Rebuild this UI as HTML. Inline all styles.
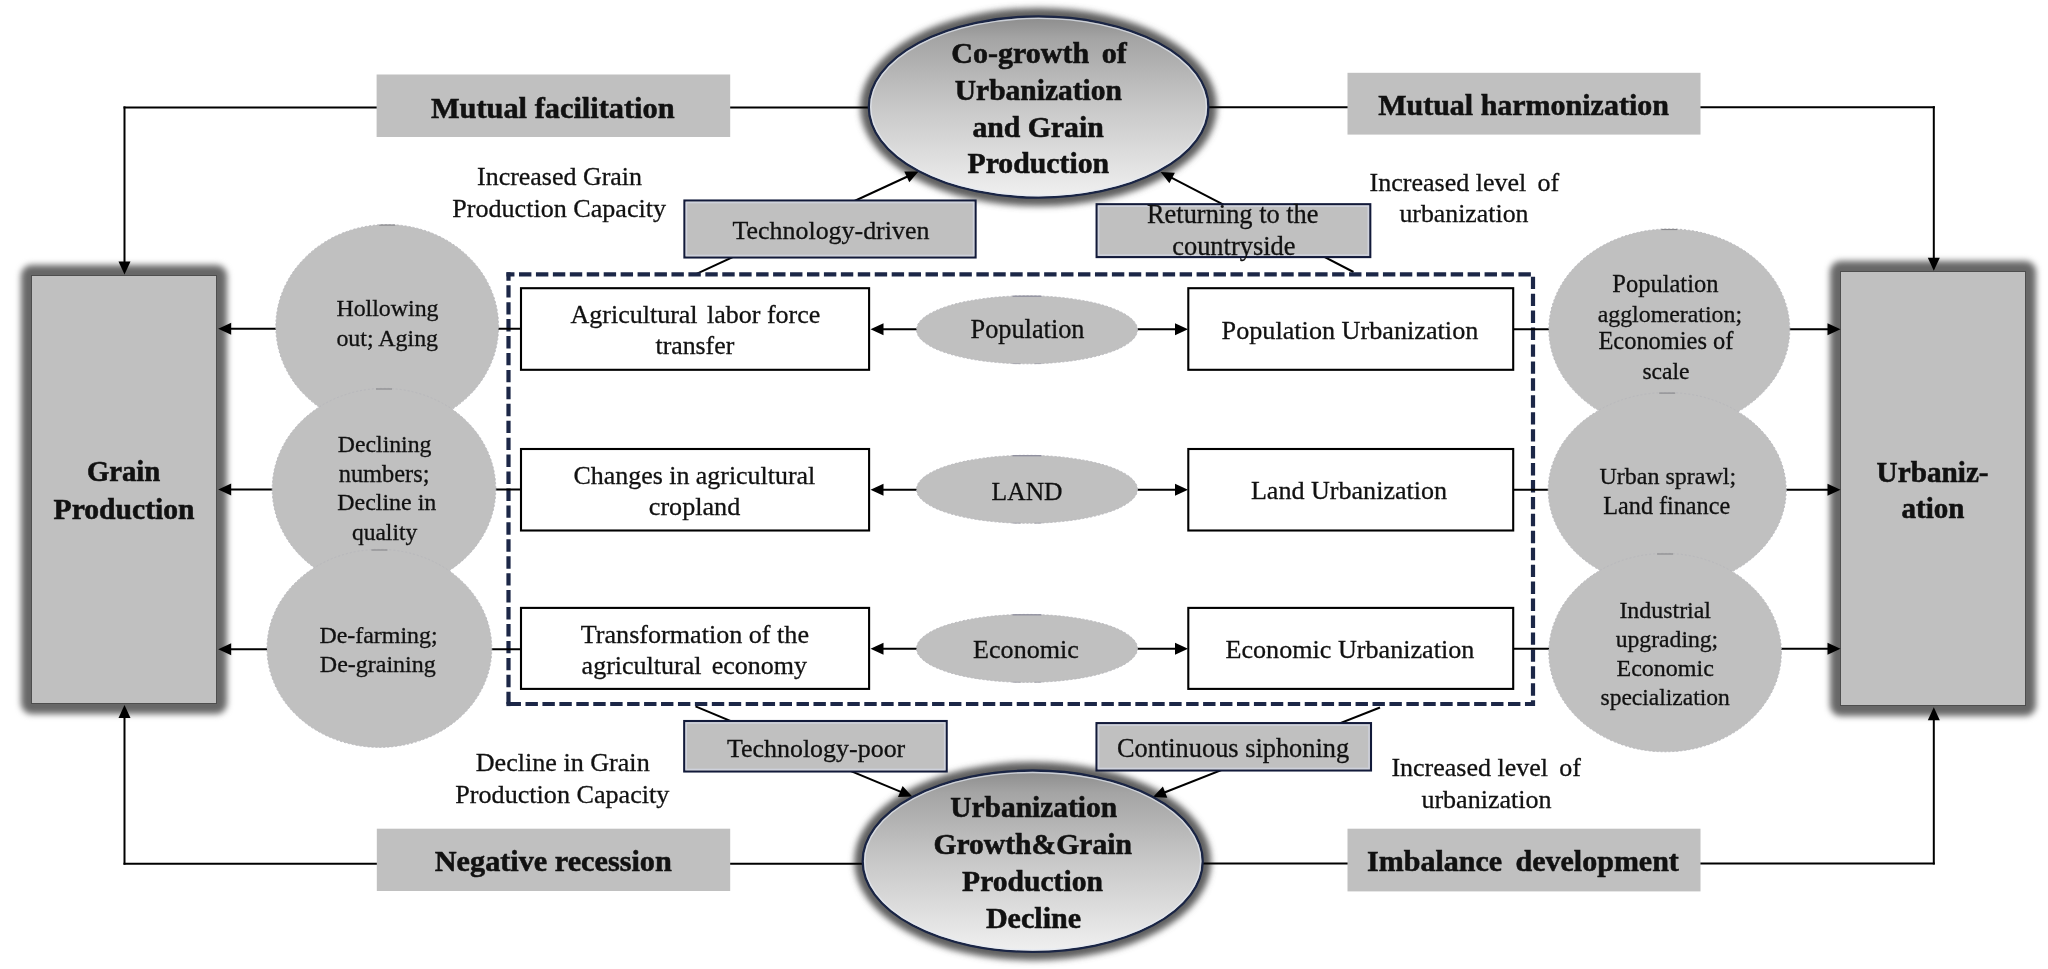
<!DOCTYPE html>
<html><head><meta charset="utf-8"><title>Urbanization and Grain Production</title>
<style>
html,body{margin:0;padding:0;background:#fff;}
body{width:2048px;height:969px;position:relative;overflow:hidden;font-family:"Liberation Serif",serif;}
.glow{position:absolute;background:#676767;border-radius:11px;filter:blur(3px);}
.big{position:absolute;background:#c0c0c0;border:1px solid #4e4e4e;}
svg{position:absolute;left:0;top:0;filter:blur(0.3px);}
</style></head><body>
<div class="glow" style="left:21.200000000000003px;top:265px;width:205.7px;height:448.9px;"></div><div class="big" style="left:31.200000000000003px;top:275px;width:183.7px;height:426.9px;"></div>
<div class="glow" style="left:1829.8px;top:261.1px;width:206.4000000000001px;height:454.9px;"></div><div class="big" style="left:1839.8px;top:271.1px;width:184.4000000000001px;height:432.9px;"></div>
<svg width="2048" height="969" viewBox="0 0 2048 969">
<defs>
<filter id="sh" x="-20%" y="-30%" width="140%" height="160%"><feGaussianBlur stdDeviation="3"/></filter>
<linearGradient id="eg" x1="0" y1="0" x2="0" y2="1">
<stop offset="0" stop-color="#8c8c8c"/><stop offset="0.12" stop-color="#a4a4a4"/><stop offset="0.5" stop-color="#c8c8c8"/><stop offset="1" stop-color="#f0f0f0"/>
</linearGradient>
</defs>
<ellipse cx="1038.6" cy="107" rx="178.3" ry="99.1" fill="#5e5e5e" filter="url(#sh)"/>
<ellipse cx="1032.7" cy="861.2" rx="178.5" ry="99.2" fill="#5e5e5e" filter="url(#sh)"/>
<line x1="123.5" y1="107.4" x2="870" y2="107.4" stroke="#000" stroke-width="2" />
<line x1="124.5" y1="106.4" x2="124.5" y2="262" stroke="#000" stroke-width="2" />
<polygon points="124.5,274.5 118.5,261.5 130.5,261.5" fill="#000"/>
<line x1="1207" y1="107.2" x2="1934.8" y2="107.2" stroke="#000" stroke-width="2" />
<line x1="1933.8" y1="106.2" x2="1933.8" y2="258" stroke="#000" stroke-width="2" />
<polygon points="1933.8,270.7 1927.8,257.7 1939.8,257.7" fill="#000"/>
<line x1="123.5" y1="863.7" x2="864" y2="863.7" stroke="#000" stroke-width="2" />
<line x1="124.5" y1="864.7" x2="124.5" y2="716" stroke="#000" stroke-width="2" />
<polygon points="124.5,705.0 130.5,718.0 118.5,718.0" fill="#000"/>
<line x1="1201" y1="863.5" x2="1934.8" y2="863.5" stroke="#000" stroke-width="2" />
<line x1="1933.8" y1="864.5" x2="1933.8" y2="718" stroke="#000" stroke-width="2" />
<polygon points="1933.8,707.3 1939.8,720.3 1927.8,720.3" fill="#000"/>
<line x1="696.5" y1="273.8" x2="908.6" y2="176.0" stroke="#000" stroke-width="2" />
<polygon points="918.6,171.4 909.3,182.3 904.3,171.4" fill="#000"/>
<line x1="1353.5" y1="272" x2="1170.4" y2="177.1" stroke="#000" stroke-width="2" />
<polygon points="1160.6,172.0 1174.9,172.7 1169.4,183.3" fill="#000"/>
<line x1="695.5" y1="706.4" x2="902.1" y2="792.4" stroke="#000" stroke-width="2" />
<polygon points="912.3,796.6 898.0,797.1 902.6,786.1" fill="#000"/>
<line x1="1380" y1="707.5" x2="1163.2" y2="793.0" stroke="#000" stroke-width="2" />
<polygon points="1153.0,797.0 1162.9,786.6 1167.3,797.8" fill="#000"/>
<ellipse cx="1038.6" cy="107" rx="169.8" ry="90.6" fill="url(#eg)" stroke="#1a2545" stroke-width="2.3"/>
<ellipse cx="1038.6" cy="107" rx="167.8" ry="88.6" fill="none" stroke="#e4eaf4" stroke-width="1.3" opacity="0.7"/>
<ellipse cx="1032.7" cy="861.2" rx="170" ry="90.7" fill="url(#eg)" stroke="#1a2545" stroke-width="2.3"/>
<ellipse cx="1032.7" cy="861.2" rx="168" ry="88.7" fill="none" stroke="#e4eaf4" stroke-width="1.3" opacity="0.7"/>
<rect x="376.6" y="74.5" width="353.6" height="62.5" fill="#c0c0c0"/>
<rect x="1347.5" y="72.8" width="353.0" height="61.8" fill="#c0c0c0"/>
<rect x="376.8" y="828.7" width="353.40000000000003" height="62.299999999999955" fill="#c0c0c0"/>
<rect x="1347.5" y="828.7" width="353.0" height="62.69999999999993" fill="#c0c0c0"/>
<rect x="684.4" y="200.5" width="291.2" height="57.0" fill="#c0c0c0" stroke="#121a3a" stroke-width="2.1"/>
<rect x="686.4" y="202.5" width="287.2" height="53.0" fill="none" stroke="#d2d6e2" stroke-width="1.6" opacity="0.8"/>
<rect x="1096.6" y="204.2" width="273.7" height="52.9" fill="#c0c0c0" stroke="#121a3a" stroke-width="2.1"/>
<rect x="1098.6" y="206.2" width="269.7" height="48.9" fill="none" stroke="#d2d6e2" stroke-width="1.6" opacity="0.8"/>
<rect x="684.2" y="721" width="262.5" height="50.5" fill="#c0c0c0" stroke="#121a3a" stroke-width="2.1"/>
<rect x="686.2" y="723" width="258.5" height="46.5" fill="none" stroke="#d2d6e2" stroke-width="1.6" opacity="0.8"/>
<rect x="1096.5" y="723.1" width="274.5" height="47.4" fill="#c0c0c0" stroke="#121a3a" stroke-width="2.1"/>
<rect x="1098.5" y="725.1" width="270.5" height="43.4" fill="none" stroke="#d2d6e2" stroke-width="1.6" opacity="0.8"/>
<line x1="506.5" y1="274.3" x2="1535" y2="274.3" stroke="#1c2747" stroke-width="4.2" stroke-dasharray="12.4 4.54" stroke-dashoffset="4.44"/>
<line x1="508.5" y1="272.3" x2="508.5" y2="706" stroke="#1c2747" stroke-width="4.2" stroke-dasharray="12.4 4.54" stroke-dashoffset="4.04"/>
<line x1="1533" y1="272.3" x2="1533" y2="706" stroke="#1c2747" stroke-width="4.2" stroke-dasharray="12.4 4.54" stroke-dashoffset="12.54"/>
<line x1="506.5" y1="704" x2="1535" y2="704" stroke="#1c2747" stroke-width="4.2" stroke-dasharray="12.4 4.54" stroke-dashoffset="14.88"/>
<rect x="506.4" y="701.9" width="4.2" height="4.2" fill="#1c2747"/>
<line x1="480" y1="328.7" x2="522" y2="328.7" stroke="#000" stroke-width="2" />
<line x1="285" y1="328.7" x2="229.2" y2="328.7" stroke="#000" stroke-width="2" />
<polygon points="218.2,328.7 231.2,322.7 231.2,334.7" fill="#000"/>
<line x1="480" y1="489.5" x2="522" y2="489.5" stroke="#000" stroke-width="2" />
<line x1="285" y1="489.5" x2="229.2" y2="489.5" stroke="#000" stroke-width="2" />
<polygon points="218.2,489.5 231.2,483.5 231.2,495.5" fill="#000"/>
<line x1="480" y1="649.2" x2="522" y2="649.2" stroke="#000" stroke-width="2" />
<line x1="285" y1="649.2" x2="229.2" y2="649.2" stroke="#000" stroke-width="2" />
<polygon points="218.2,649.2 231.2,643.2 231.2,655.2" fill="#000"/>
<line x1="1512" y1="329.3" x2="1560" y2="329.3" stroke="#000" stroke-width="2" />
<line x1="1770" y1="329.3" x2="1829.5" y2="329.3" stroke="#000" stroke-width="2" />
<polygon points="1840.5,329.3 1827.5,335.3 1827.5,323.3" fill="#000"/>
<line x1="1512" y1="489.7" x2="1560" y2="489.7" stroke="#000" stroke-width="2" />
<line x1="1770" y1="489.7" x2="1829.5" y2="489.7" stroke="#000" stroke-width="2" />
<polygon points="1840.5,489.7 1827.5,495.7 1827.5,483.7" fill="#000"/>
<line x1="1512" y1="648.7" x2="1560" y2="648.7" stroke="#000" stroke-width="2" />
<line x1="1770" y1="648.7" x2="1829.5" y2="648.7" stroke="#000" stroke-width="2" />
<polygon points="1840.5,648.7 1827.5,654.7 1827.5,642.7" fill="#000"/>
<line x1="930" y1="329.3" x2="881.5" y2="329.3" stroke="#000" stroke-width="2" />
<polygon points="870.5,329.3 883.5,323.3 883.5,335.3" fill="#000"/>
<line x1="1125" y1="329.3" x2="1177.0" y2="329.3" stroke="#000" stroke-width="2" />
<polygon points="1188.0,329.3 1175.0,335.3 1175.0,323.3" fill="#000"/>
<line x1="930" y1="489.8" x2="881.5" y2="489.8" stroke="#000" stroke-width="2" />
<polygon points="870.5,489.8 883.5,483.8 883.5,495.8" fill="#000"/>
<line x1="1125" y1="489.8" x2="1177.0" y2="489.8" stroke="#000" stroke-width="2" />
<polygon points="1188.0,489.8 1175.0,495.8 1175.0,483.8" fill="#000"/>
<line x1="930" y1="648.7" x2="881.5" y2="648.7" stroke="#000" stroke-width="2" />
<polygon points="870.5,648.7 883.5,642.7 883.5,654.7" fill="#000"/>
<line x1="1125" y1="648.7" x2="1177.0" y2="648.7" stroke="#000" stroke-width="2" />
<polygon points="1188.0,648.7 1175.0,654.7 1175.0,642.7" fill="#000"/>
<ellipse cx="387.2" cy="326.5" rx="111.4" ry="102" fill="#c0c0c0" stroke="#b8b8bc" stroke-width="1" stroke-dasharray="2 2"/>
<line x1="379.2" y1="225.1" x2="395.2" y2="225.1" stroke="#8a8a8e" stroke-width="1.2"/>
<ellipse cx="384" cy="489" rx="111.8" ry="100.6" fill="#c0c0c0" stroke="#b8b8bc" stroke-width="1" stroke-dasharray="2 2"/>
<line x1="376" y1="389.0" x2="392" y2="389.0" stroke="#8a8a8e" stroke-width="1.2"/>
<ellipse cx="379.4" cy="648.4" rx="112.4" ry="99" fill="#c0c0c0" stroke="#b8b8bc" stroke-width="1" stroke-dasharray="2 2"/>
<line x1="371.4" y1="550.0" x2="387.4" y2="550.0" stroke="#8a8a8e" stroke-width="1.2"/>
<ellipse cx="1669.3" cy="329.3" rx="120.5" ry="100.4" fill="#c0c0c0" stroke="#b8b8bc" stroke-width="1" stroke-dasharray="2 2"/>
<line x1="1661.3" y1="229.5" x2="1677.3" y2="229.5" stroke="#8a8a8e" stroke-width="1.2"/>
<ellipse cx="1667.2" cy="490" rx="119" ry="97.5" fill="#c0c0c0" stroke="#b8b8bc" stroke-width="1" stroke-dasharray="2 2"/>
<line x1="1659.2" y1="393.1" x2="1675.2" y2="393.1" stroke="#8a8a8e" stroke-width="1.2"/>
<ellipse cx="1665.1" cy="652.6" rx="116.3" ry="99.2" fill="#c0c0c0" stroke="#b8b8bc" stroke-width="1" stroke-dasharray="2 2"/>
<line x1="1657.1" y1="554.0" x2="1673.1" y2="554.0" stroke="#8a8a8e" stroke-width="1.2"/>
<rect x="521" y="288.2" width="348.1" height="81.6" fill="#fff" stroke="#000" stroke-width="2.1"/>
<rect x="1188.3" y="288.2" width="324.9" height="81.6" fill="#fff" stroke="#000" stroke-width="2.1"/>
<rect x="521" y="449.0" width="348.1" height="81.5" fill="#fff" stroke="#000" stroke-width="2.1"/>
<rect x="1188.3" y="449.0" width="324.9" height="81.5" fill="#fff" stroke="#000" stroke-width="2.1"/>
<rect x="521" y="607.9" width="348.1" height="81.0" fill="#fff" stroke="#000" stroke-width="2.1"/>
<rect x="1188.3" y="607.9" width="324.9" height="81.0" fill="#fff" stroke="#000" stroke-width="2.1"/>
<ellipse cx="1027" cy="329.8" rx="110.5" ry="34" fill="#c0c0c0" stroke="#b8b8bc" stroke-width="1" stroke-dasharray="2 2"/>
<line x1="1012.5" y1="296.2" x2="1041.5" y2="296.2" stroke="#8e8e9e" stroke-width="1.3"/>
<line x1="1012.5" y1="363.6" x2="1041.5" y2="363.6" stroke="#a8a8b0" stroke-width="1" stroke-dasharray="8 14"/>
<ellipse cx="1027" cy="489.3" rx="110.5" ry="34" fill="#c0c0c0" stroke="#b8b8bc" stroke-width="1" stroke-dasharray="2 2"/>
<line x1="1012.5" y1="455.7" x2="1041.5" y2="455.7" stroke="#8e8e9e" stroke-width="1.3"/>
<line x1="1012.5" y1="523.1" x2="1041.5" y2="523.1" stroke="#a8a8b0" stroke-width="1" stroke-dasharray="8 14"/>
<ellipse cx="1027" cy="648.4" rx="110.5" ry="34" fill="#c0c0c0" stroke="#b8b8bc" stroke-width="1" stroke-dasharray="2 2"/>
<line x1="1012.5" y1="614.8" x2="1041.5" y2="614.8" stroke="#8e8e9e" stroke-width="1.3"/>
<line x1="1012.5" y1="682.1999999999999" x2="1041.5" y2="682.1999999999999" stroke="#a8a8b0" stroke-width="1" stroke-dasharray="8 14"/>
<g font-family="Liberation Serif, serif" fill="#111">
<text x="430.9" y="118" font-size="30.37" font-weight="bold" stroke="#111" stroke-width="0.55">Mutual facilitation</text>
<text x="1378.2" y="115" font-size="29.99" font-weight="bold" stroke="#111" stroke-width="0.55">Mutual harmonization</text>
<text x="434.8" y="871.4" font-size="30.23" font-weight="bold" stroke="#111" stroke-width="0.55">Negative recession</text>
<text x="1367.1" y="871.4" font-size="30" font-weight="bold" stroke="#111" stroke-width="0.55" word-spacing="5.95">Imbalance development</text>
<text x="951.3" y="62.8" font-size="30" font-weight="bold" stroke="#111" stroke-width="0.55" word-spacing="5.25">Co-growth of</text>
<text x="954.8" y="99.7" font-size="29.51" font-weight="bold" stroke="#111" stroke-width="0.55">Urbanization</text>
<text x="972.4" y="136.5" font-size="29.73" font-weight="bold" stroke="#111" stroke-width="0.55">and Grain</text>
<text x="967.5" y="173.3" font-size="29.75" font-weight="bold" stroke="#111" stroke-width="0.55">Production</text>
<text x="950.2" y="817.1" font-size="29.46" font-weight="bold" stroke="#111" stroke-width="0.55">Urbanization</text>
<text x="933.4" y="854.2" font-size="29.63" font-weight="bold" stroke="#111" stroke-width="0.55">Growth&amp;Grain</text>
<text x="962.1" y="891" font-size="29.6" font-weight="bold" stroke="#111" stroke-width="0.55">Production</text>
<text x="985.9" y="927.6" font-size="30.08" font-weight="bold" stroke="#111" stroke-width="0.55">Decline</text>
<text x="86.9" y="481.4" font-size="28.73" font-weight="bold" stroke="#111" stroke-width="0.55">Grain</text>
<text x="53.6" y="519" font-size="29.62" font-weight="bold" stroke="#111" stroke-width="0.55">Production</text>
<text x="1876.6" y="481.6" font-size="29.23" font-weight="bold" stroke="#111" stroke-width="0.55">Urbaniz-</text>
<text x="1901.6" y="518.4" font-size="29.01" font-weight="bold" stroke="#111" stroke-width="0.55">ation</text>
<text x="477.1" y="185.2" font-size="25.95" stroke="#111" stroke-width="0.3">Increased Grain</text>
<text x="452.2" y="216.8" font-size="26.11" stroke="#111" stroke-width="0.3">Production Capacity</text>
<text x="732.6" y="238.6" font-size="25.92" stroke="#111" stroke-width="0.3">Technology-driven</text>
<text x="1147.0" y="223.3" font-size="26.4" stroke="#111" stroke-width="0.3">Returning to the</text>
<text x="1172.2" y="254.7" font-size="26.45" stroke="#111" stroke-width="0.3">countryside</text>
<text x="1369.6" y="191" font-size="26" stroke="#111" stroke-width="0.3">Increased level <tspan dx="4.74">of</tspan></text>
<text x="1399.4" y="222" font-size="25.84" stroke="#111" stroke-width="0.3">urbanization</text>
<text x="726.9" y="756.7" font-size="25.96" stroke="#111" stroke-width="0.3">Technology-poor</text>
<text x="1117.0" y="756.9" font-size="26.36" stroke="#111" stroke-width="0.3">Continuous siphoning</text>
<text x="475.7" y="771.3" font-size="26.11" stroke="#111" stroke-width="0.3">Decline in Grain</text>
<text x="455.3" y="803.3" font-size="26.14" stroke="#111" stroke-width="0.3">Production Capacity</text>
<text x="1391.4" y="776.4" font-size="26" stroke="#111" stroke-width="0.3">Increased level <tspan dx="4.64">of</tspan></text>
<text x="1421.4" y="808.4" font-size="26.06" stroke="#111" stroke-width="0.3">urbanization</text>
<text x="570.5" y="323" font-size="26" stroke="#111" stroke-width="0.3">Agricultural <tspan dx="2.93">labor force</tspan></text>
<text x="655.5" y="353.7" font-size="25.79" stroke="#111" stroke-width="0.3">transfer</text>
<text x="573.5" y="484" font-size="25.92" stroke="#111" stroke-width="0.3">Changes in agricultural</text>
<text x="648.8" y="514.8" font-size="26.14" stroke="#111" stroke-width="0.3">cropland</text>
<text x="580.8" y="643" font-size="26.11" stroke="#111" stroke-width="0.3">Transformation of the</text>
<text x="581.6" y="673.7" font-size="26" stroke="#111" stroke-width="0.3" word-spacing="3.85">agricultural economy</text>
<text x="970.5" y="338.4" font-size="26.32" stroke="#111" stroke-width="0.3">Population</text>
<text x="991.6" y="500" font-size="25.55" stroke="#111" stroke-width="0.3">LAND</text>
<text x="973.1" y="658.4" font-size="26.09" stroke="#111" stroke-width="0.3">Economic</text>
<text x="1221.6" y="338.7" font-size="26.19" stroke="#111" stroke-width="0.3">Population Urbanization</text>
<text x="1250.9" y="499.4" font-size="26.09" stroke="#111" stroke-width="0.3">Land Urbanization</text>
<text x="1225.5" y="658.3" font-size="26.13" stroke="#111" stroke-width="0.3">Economic Urbanization</text>
<text x="336.4" y="316.2" font-size="23.88" stroke="#111" stroke-width="0.3">Hollowing</text>
<text x="336.4" y="346" font-size="23.93" stroke="#111" stroke-width="0.3">out; Aging</text>
<text x="337.8" y="452.1" font-size="23.75" stroke="#111" stroke-width="0.3">Declining</text>
<text x="338.7" y="481.8" font-size="24.41" stroke="#111" stroke-width="0.3">numbers;</text>
<text x="337.2" y="510.1" font-size="23.97" stroke="#111" stroke-width="0.3">Decline in</text>
<text x="351.9" y="539.8" font-size="23.53" stroke="#111" stroke-width="0.3">quality</text>
<text x="319.4" y="642.8" font-size="23.93" stroke="#111" stroke-width="0.3">De-farming;</text>
<text x="319.8" y="672.1" font-size="24.0" stroke="#111" stroke-width="0.3">De-graining</text>
<text x="1612.3" y="292.2" font-size="24.5" stroke="#111" stroke-width="0.3">Population</text>
<text x="1597.7" y="321.5" font-size="23.85" stroke="#111" stroke-width="0.3">agglomeration;</text>
<text x="1598.4" y="349.3" font-size="24.45" stroke="#111" stroke-width="0.3">Economies of</text>
<text x="1642.4" y="379.4" font-size="23.6" stroke="#111" stroke-width="0.3">scale</text>
<text x="1599.5" y="484.4" font-size="23.99" stroke="#111" stroke-width="0.3">Urban sprawl;</text>
<text x="1603.3" y="514.2" font-size="24.18" stroke="#111" stroke-width="0.3">Land finance</text>
<text x="1619.4" y="617.9" font-size="23.91" stroke="#111" stroke-width="0.3">Industrial</text>
<text x="1615.7" y="647" font-size="23.67" stroke="#111" stroke-width="0.3">upgrading;</text>
<text x="1616.5" y="676.1" font-size="24.02" stroke="#111" stroke-width="0.3">Economic</text>
<text x="1600.5" y="705.2" font-size="23.53" stroke="#111" stroke-width="0.3">specialization</text>
</g>
</svg>
</body></html>
